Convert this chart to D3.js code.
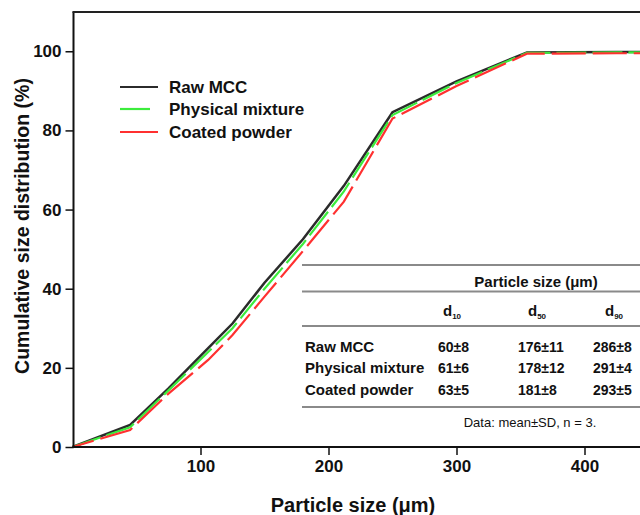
<!DOCTYPE html>
<html>
<head>
<meta charset="utf-8">
<script src="https://cdn.jsdelivr.net/npm/d3@7"></script>
<style>
  body { margin: 0; background: #fff; }
  svg { display: block; }
  text { font-family: Arial, "Liberation Sans", sans-serif; }
</style>
</head>
<body>
<svg id="chart" width="640" height="515"></svg>
<script>
// particle size (um) at each sieve point
var sizes = [0, 45, 75, 106, 125, 150, 180, 212, 250, 300, 355, 425, 500]
var rawMCC = [0, 5.6, 14.8, 25, 31.2, 41.5, 52.5, 66, 84.6, 92.4, 99.7, 99.8, 99.8]
var physMix = [0, 5.0, 14.3, 24, 30, 40, 51.3, 64.6, 83.9, 92, 99.6, 99.7, 99.7]
var coated = [0, 4.3, 13.5, 22, 28.3, 38, 49.5, 62, 83.0, 91.2, 99.4, 99.5, 99.5]

var seriesNames = ["Raw MCC", "Physical mixture", "Coated powder"]
var seriesColors = ["#2b2b2b", "#3cec3c", "#ff3030"]
var seriesDash = [null, "30,6", "34,7"]

var xTicks = [100, 200, 300, 400]
var yTicks = [0, 20, 40, 60, 80, 100]

// inset table
var tableHeader = "Particle size (μm)"
var tableCols = ["10", "50", "90"]
var tableRows = ["Raw MCC", "Physical mixture", "Coated powder"]
var tableVals = [
  ["60±8", "176±11", "286±8"],
  ["61±6", "178±12", "291±4"],
  ["63±5", "181±8", "293±5"]
]
var tableNote = "Data: mean±SD, n = 3."

var svg = d3.select("#chart")
var x = d3.scaleLinear().domain([0, 500]).range([72.5, 72.5 + 640])
var y = d3.scaleLinear().domain([0, 110]).range([447, 11.7])

var series = [rawMCC, physMix, coated]

// table lines first (behind curves)
var tg = svg.append("g")
var lineYs = [265, 291.5, 326, 407]
tg.selectAll("line").data(lineYs).enter().append("line")
  .attr("x1", 302).attr("x2", 640)
  .attr("y1", function(d){ return d }).attr("y2", function(d){ return d })
  .attr("stroke", "#8a8a8a").attr("stroke-width", 2)

tg.append("text").attr("x", 536).attr("y", 287)
  .attr("text-anchor", "middle").attr("font-size", 15).attr("font-weight", "bold")
  .attr("fill", "#111").text(tableHeader)

var colX = [452, 537, 614]
tableCols.forEach(function(c, i){
  var t = tg.append("text").attr("x", colX[i]).attr("y", 316)
    .attr("text-anchor", "middle").attr("font-size", 15).attr("font-weight", "bold").attr("fill", "#111")
  t.append("tspan").text("d")
  t.append("tspan").attr("font-size", 8).attr("dy", 3).text(c)
})

var rowY = [352, 373, 395]
var valX = [438, 518, 593]
tableRows.forEach(function(r, i){
  tg.append("text").attr("x", 305).attr("y", rowY[i])
    .attr("font-size", 15).attr("font-weight", "bold").attr("fill", "#111").text(r)
  tableVals[i].forEach(function(v, j){
    tg.append("text").attr("x", valX[j]).attr("y", rowY[i])
      .attr("font-size", 14).attr("font-weight", "bold").attr("fill", "#111").text(v)
  })
})
tg.append("text").attr("x", 530).attr("y", 427)
  .attr("text-anchor", "middle").attr("font-size", 13).attr("fill", "#111").text(tableNote)

// curves
var line = d3.line()
  .x(function(d){ return x(d[0]) })
  .y(function(d){ return y(d[1]) })

series.forEach(function(s, i){
  var pts = sizes.map(function(v, k){ return [v, s[k]] })
  svg.append("path").datum(pts)
    .attr("d", line)
    .attr("fill", "none")
    .attr("stroke", seriesColors[i])
    .attr("stroke-width", i == 0 ? 2.5 : 2.2)
    .attr("stroke-dasharray", seriesDash[i])
    .attr("stroke-dashoffset", i == 2 ? 12 : 0)
})

// axes
var xAxis = d3.axisBottom(x).tickValues(xTicks).tickSize(8).tickPadding(5)
var gx = svg.append("g").attr("transform", "translate(0,447)").call(xAxis)
gx.select(".domain").remove()
gx.append("line").attr("x1", 72.5).attr("x2", 640).attr("stroke", "#111").attr("stroke-width", 2)
gx.selectAll(".tick line").attr("stroke", "#111").attr("stroke-width", 1.5)
gx.selectAll(".tick text").attr("font-size", 17).attr("font-weight", "bold").attr("fill", "#111")
  .attr("font-family", "Arial, 'Liberation Sans', sans-serif")

var yAxis = d3.axisLeft(y).tickValues(yTicks).tickSize(8).tickPadding(4)
var gy = svg.append("g").attr("transform", "translate(73.5,0)").call(yAxis)
gy.select(".domain").remove()
gy.append("line").attr("y1", 11.7).attr("y2", 448).attr("stroke", "#111").attr("stroke-width", 2)
gy.selectAll(".tick line").attr("stroke", "#111").attr("stroke-width", 1.5)
gy.selectAll(".tick text").attr("font-size", 17).attr("font-weight", "bold").attr("fill", "#111")
  .attr("font-family", "Arial, 'Liberation Sans', sans-serif")

// top frame
svg.append("line").attr("x1", 72.5).attr("x2", 640).attr("y1", 12).attr("y2", 12)
  .attr("stroke", "#222").attr("stroke-width", 2)

// axis titles
svg.append("text").attr("x", 353).attr("y", 512)
  .attr("text-anchor", "middle").attr("font-size", 20).attr("font-weight", "bold").attr("fill", "#111")
  .text("Particle size (μm)")
svg.append("text").attr("transform", "translate(29,226) rotate(-90)")
  .attr("text-anchor", "middle").attr("font-size", 19.5).attr("font-weight", "bold").attr("fill", "#111")
  .text("Cumulative size distribution (%)")

// legend
var legY = [87, 109, 132]
var legLen = [38, 30, 38]
seriesNames.forEach(function(n, i){
  svg.append("line").attr("x1", 120).attr("x2", 120 + legLen[i])
    .attr("y1", legY[i]).attr("y2", legY[i])
    .attr("stroke", seriesColors[i]).attr("stroke-width", 2.2)
  svg.append("text").attr("x", 169).attr("y", legY[i] + 6)
    .attr("font-size", 17).attr("font-weight", "bold").attr("fill", "#111").text(n)
})
</script>
</body>
</html>
